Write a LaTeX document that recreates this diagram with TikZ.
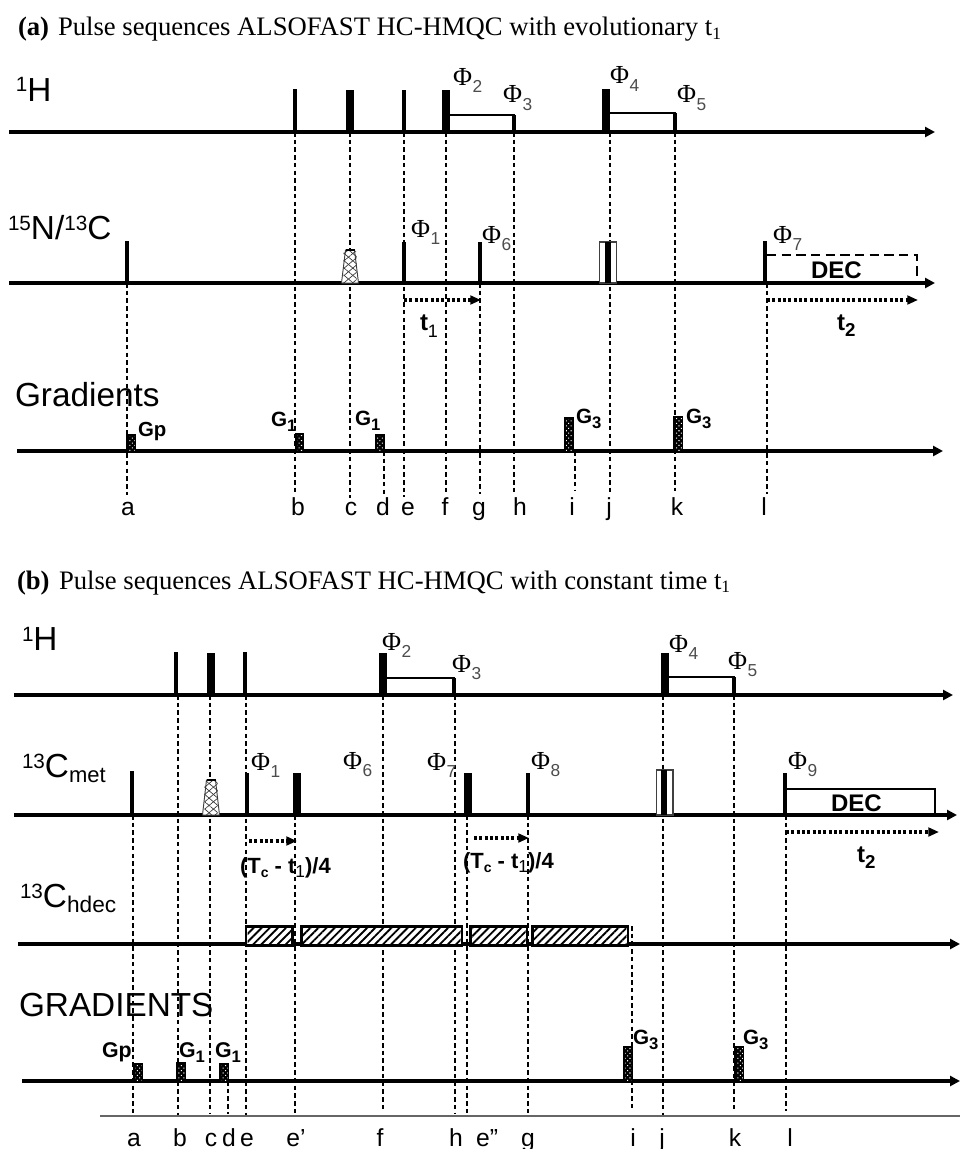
\documentclass[tikz,border=0pt]{standalone}
\usepackage{fontspec}
\setmainfont{Liberation Serif}
\setsansfont{Liberation Sans}
\usetikzlibrary{arrows.meta,patterns,patterns.meta}
\newcommand\fsz[1]{\fontsize{#1}{#1}\selectfont}
\definecolor{subgray}{gray}{0.3}
\tikzset{
  axisline/.style={line width=2.6pt,line cap=butt,-{Triangle[length=7.5pt,width=7.5pt]}},
  guide/.style={line width=0.9pt,dash pattern=on 3.4pt off 2.4pt,black},
  timearrow/.style={line width=2.3pt,dash pattern=on 2.3pt off 1.7pt,-{Triangle[length=8pt,width=6.5pt]}},
  delaybox/.style={line width=1.8pt,draw=black,fill=white},
  hatchbox/.style={line width=2pt,draw=black,fill=white},
  txt/.style={inner sep=0pt,outer sep=0pt,anchor=base west,font=\sffamily},
  ttl/.style={inner sep=0pt,outer sep=0pt,anchor=base west,font=\rmfamily\fsz{20}},
  tick/.style={inner sep=0pt,outer sep=0pt,anchor=base,font=\sffamily\fsz{18.5}},
  chan/.style={txt,font=\sffamily\fsz{25}},
  grad/.style={txt,font=\sffamily\bfseries\fsz{15.3}},
}
\newcommand\Sup[1]{\raisebox{.27em}{\fsz{15.5}#1}}
\newcommand\Phil[4]{\node[txt] (#1) at (#2,#3) {\rmfamily\fsz{19.5}\char"03A6\hspace{0.5pt}\raisebox{-5.5pt}{\sffamily\fsz{13}\color{subgray}#4}};}
\newcommand\Gl[5]{\node[grad] (#1) at (#2,#3) {\fsz{#5}G\raisebox{-4pt}{\fsz{12.5}#4}};}
\newcommand\Pulse[4]{\fill[black] ({#1-#2/2},#3) rectangle ({#1+#2/2},#4);}
\newcommand\Gblock[4]{\fill[black] (#1,#3) rectangle (#2,#4);
  \fill[pattern={Dots[radius=0.55pt,distance=2.6pt,angle=45]},pattern color=white] ({#1+2.2},{#3+2.5}) rectangle ({#2-1.2},{#4-1});}
\newcommand\Guide[4]{\coordinate (#1t) at (#2,#3); \coordinate (#1b) at (#2,#4); \draw[guide] (#1t) -- (#1b);}
\newcommand\Trap[3]{\filldraw[line width=0.7pt,draw=black!75,fill=white] ({#1-8.5},#3) -- ({#1-4.5},#2) -- ({#1+4.5},#2) -- ({#1+8.5},#3) -- cycle;
  \fill[pattern={Lines[angle=40,distance=4.2pt,line width=0.5pt]},pattern color=black!80] ({#1-6.5},{#2+1}) rectangle ({#1+6.5},#3);
  \fill[pattern={Lines[angle=-40,distance=4.2pt,line width=0.5pt]},pattern color=black!80] ({#1-6.5},{#2+1}) rectangle ({#1+6.5},#3);
  \draw[line width=1.3pt] ({#1-4.5},#2) -- ({#1+4.5},#2);}
\newcommand\Hatch[4]{\draw[hatchbox] (#1,#3) rectangle (#2,#4);
  \fill[pattern={Lines[angle=45,distance=4.3pt,line width=1.4pt]},pattern color=black] ({#1+1.5},{#3+1.5}) rectangle ({#2-1.5},{#4-1.5});}
\begin{document}
\begin{tikzpicture}[x=0.75pt,y=-0.75pt]
\useasboundingbox (0,0) rectangle (960,1149);
\fill[white] (0,0) rectangle (960,1149);

% ---------- panel a ----------
\node[ttl] (atitleA) at (18,36) {\textbf{(a)}};
\node[ttl] (atitleB) at (58,36) {Pulse sequences ALSOFAST HC-HMQC with evolutionary t\raisebox{-2.5pt}{\fsz{13}1}};

\Guide{ga}{127}{283}{495}
\Guide{gb}{295}{132}{495}
\Guide{gc}{350}{132}{498}
\Guide{gd}{384}{451}{494}
\Guide{ge}{404}{132}{497}
\Guide{gf}{446}{132}{492}
\Guide{gg}{480}{283}{494}
\Guide{gh}{514}{132}{492}
\Guide{gi}{575}{451}{490}
\Guide{gj}{610}{132}{494}
\Guide{gk}{675}{132}{491}
\Guide{gl}{767}{283}{494}

% 1H
\node[chan] (aH) at (16,101) {\Sup{1}H};
\coordinate (a1s) at (9,132); \coordinate (a1e) at (935,132);
\draw[delaybox] (448,115) rectangle (514,132);
\draw[delaybox] (608,113) rectangle (675,132);
\draw[axisline] (a1s) -- (a1e);
\Pulse{295}{3.5}{89}{132}
\Pulse{350}{8}{90}{132}
\Pulse{404}{3.5}{90}{132}
\Pulse{446}{8}{90}{132}
\Pulse{514}{3.5}{115}{132}
\Pulse{606}{8}{89}{132}
\Pulse{675}{3.5}{113}{132}
\Phil{aP2}{453}{85}{2}
\Phil{aP3}{503}{103}{3}
\Phil{aP4}{610}{84}{4}
\Phil{aP5}{677}{103}{5}

% 15N/13C
\node[chan] (aN) at (8,239) {\Sup{15}N/\Sup{13}C};
\coordinate (a2s) at (9,283); \coordinate (a2e) at (935,283);
\draw[line width=1.5pt,dash pattern=on 7pt off 4pt] (767,255) -- (917,255) -- (917,283);
\draw[axisline] (a2s) -- (a2e);
\Pulse{127}{3.5}{241}{283}
\Trap{350}{250}{283}
\Pulse{404}{4}{242}{283}
\Pulse{480}{3.5}{242}{283}
\draw[line width=0.8pt,draw=black!75,fill=white] (599.5,242) rectangle (616.5,283);
\Pulse{608}{6.5}{242}{283}
\Pulse{765}{4}{241}{283}
\node[txt,font=\sffamily\bfseries\fsz{18}] (aDEC) at (811,278) {DEC};
\Phil{aP1}{411}{237}{1}
\Phil{aP6}{482}{243}{6}
\Phil{aP7}{773}{243}{7}
\coordinate (at1s) at (404,300); \coordinate (at1e) at (481,300);
\draw[timearrow] (at1s) -- (at1e);
\coordinate (at2s) at (767,300); \coordinate (at2e) at (918,300);
\draw[timearrow] (at2s) -- (at2e);
\node[txt,font=\sffamily\bfseries\fsz{18}] (at1) at (420,330) {t\raisebox{-5.5pt}{\mdseries\fsz{13.5}1}};
\node[txt,font=\sffamily\bfseries\fsz{18}] (at2) at (837,330) {t\raisebox{-5pt}{\fsz{14}2}};

% Gradients
\node[chan] (aG) at (15,406) {Gradients};
\coordinate (a3s) at (17,451); \coordinate (a3e) at (943,451);
\draw[axisline] (a3s) -- (a3e);
\Gblock{126}{136}{434}{451}
\Gblock{295}{304}{433}{451}
\Gblock{375}{385}{434}{451}
\Gblock{564}{574}{417}{451}
\Gblock{673}{683}{416}{451}
\node[grad] (aGp) at (138,436) {Gp};
\Gl{aG1a}{271}{426}{1}{15.5}
\Gl{aG1b}{355}{425}{1}{15.5}
\Gl{aG3a}{576}{423}{3}{15.5}
\Gl{aG3b}{686}{423}{3}{15.5}

\node[tick] (ta) at (128,515) {a};
\node[tick] (tb) at (298,515) {b};
\node[tick] (tc) at (351,515) {c};
\node[tick] (td) at (383,515) {d};
\node[tick] (te) at (408,515) {e};
\node[tick] (tf) at (445,515) {f};
\node[tick] (tg) at (479,515) {g};
\node[tick] (th) at (520,515) {h};
\node[tick] (ti) at (572,515) {i};
\node[tick] (tj) at (609,515) {j};
\node[tick] (tk) at (677,515) {k};
\node[tick] (tl) at (764,515) {l};

% ---------- panel b ----------
\node[ttl] (btitleA) at (17,589) {\textbf{(b)}};
\node[ttl] (btitleB) at (59,589) {Pulse sequences ALSOFAST HC-HMQC with constant time t\raisebox{-2.5pt}{\fsz{13}1}};

\Guide{ha}{133}{815}{1116}
\Guide{hb}{178}{695}{1116}
\Guide{hc}{210}{695}{1113}
\Guide{hd}{228}{1081}{1114}
\Guide{he}{246}{695}{1118}
\Guide{hep}{295}{815}{1113}
\Guide{hf}{383}{695}{1111}
\Guide{hh}{455}{695}{1113}
\Guide{hepp}{467}{815}{1116}
\Guide{hg}{528}{815}{1113}
\Guide{hi}{632}{926}{1111}
\Guide{hj}{663}{695}{1115}
\Guide{hk}{734}{695}{1111}
\Guide{hl}{786}{815}{1111}

\coordinate (brs) at (100,1116); \coordinate (bre) at (960,1116);
\draw[line width=0.8pt,black!60] (brs) -- (bre);

% 1H
\node[chan] (bH) at (22,650) {\Sup{1}H};
\coordinate (b1s) at (14,695); \coordinate (b1e) at (953,695);
\draw[delaybox] (385,678) rectangle (454,695);
\draw[delaybox] (667,677) rectangle (734,695);
\draw[axisline] (b1s) -- (b1e);
\Pulse{176}{3.5}{652}{695}
\Pulse{211}{8}{653}{695}
\Pulse{245}{3.5}{652}{695}
\Pulse{383}{8}{653}{695}
\Pulse{454}{3.5}{678}{695}
\Pulse{665}{8}{653}{695}
\Pulse{734}{3.5}{677}{695}
\Phil{bP2}{382}{650}{2}
\Phil{bP3}{452}{672}{3}
\Phil{bP4}{669}{652}{4}
\Phil{bP5}{728}{669}{5}

% 13C met
\node[txt,font=\sffamily\fsz{25}] (bC) at (22,777) {\Sup{13}C\raisebox{-4pt}{\fsz{16.5}met}};
\coordinate (b2s) at (14,815); \coordinate (b2e) at (957,815);
\draw[line width=1.4pt] (787,789) -- (935,789) -- (935,815);
\draw[axisline] (b2s) -- (b2e);
\Pulse{131.5}{4}{771}{815}
\Trap{211}{780}{815}
\Pulse{246.5}{4}{773}{815}
\Pulse{297}{8}{773}{815}
\Pulse{468}{8}{773}{815}
\Pulse{528}{4}{773}{815}
\draw[line width=0.8pt,draw=black!75,fill=white] (656.5,770) rectangle (673,815);
\Pulse{664}{6.5}{770}{815}
\Pulse{785}{4}{773}{815}
\node[txt,font=\sffamily\bfseries\fsz{18}] (bDEC) at (831,811) {DEC};
\Phil{bP1}{251}{770}{1}
\Phil{bP6}{343}{769}{6}
\Phil{bP7}{427}{770}{7}
\Phil{bP8}{531}{769}{8}
\Phil{bP9}{788}{769}{9}
\coordinate (bd1s) at (249,841); \coordinate (bd1e) at (297,841);
\draw[timearrow] (bd1s) -- (bd1e);
\coordinate (bd2s) at (474,838); \coordinate (bd2e) at (529,838);
\draw[timearrow] (bd2s) -- (bd2e);
\coordinate (bt2s) at (786,832); \coordinate (bt2e) at (939,832);
\draw[timearrow] (bt2s) -- (bt2e);
\node[txt,font=\sffamily\bfseries\fsz{16.5}] (bf1) at (240,873) {(T\raisebox{-3pt}{\fsz{10.5}c} - t\raisebox{-3pt}{\mdseries\fsz{13}1})/4};
\node[txt,font=\sffamily\bfseries\fsz{16.5}] (bf2) at (463,868) {(T\raisebox{-3pt}{\fsz{10.5}c} - t\raisebox{-3pt}{\mdseries\fsz{13}1})/4};
\node[txt,font=\sffamily\bfseries\fsz{18}] (bt2) at (857,862) {t\raisebox{-5pt}{\fsz{14}2}};

% 13C hdec
\node[txt,font=\sffamily\fsz{25}] (bD) at (20,907) {\Sup{13}C\raisebox{-4pt}{\fsz{17}hdec}};
\coordinate (b3s) at (18,944); \coordinate (b3e) at (960,944);
\draw[axisline] (b3s) -- (b3e);
\Hatch{246}{292.5}{926.5}{945.5}
\Hatch{301.5}{462}{926.5}{945.5}
\Hatch{470.5}{527}{926.5}{945.5}
\Hatch{532.5}{628}{926.5}{945.5}

% Gradients
\node[chan] (bG) at (19,1016) {GRADIENTS};
\coordinate (b4s) at (22,1081); \coordinate (b4e) at (960,1081);
\draw[axisline] (b4s) -- (b4e);
\Gblock{133}{143}{1063}{1081}
\Gblock{176}{186}{1062}{1081}
\Gblock{219}{229}{1063}{1081}
\Gblock{623}{633}{1046}{1081}
\Gblock{734}{744}{1046}{1081}
\node[grad,font=\sffamily\bfseries\fsz{16}] (bGp) at (102,1057) {Gp};
\Gl{bG1a}{179}{1057}{1}{16}
\Gl{bG1b}{215}{1057}{1}{16}
\Gl{bG3a}{633}{1044}{3}{15.5}
\Gl{bG3b}{743}{1044}{3}{15.5}

\node[tick] (ua) at (134,1146) {a};
\node[tick] (ub) at (180,1146) {b};
\node[tick] (uc) at (211,1146) {c};
\node[tick] (ud) at (229,1146) {d};
\node[tick] (ue) at (247,1146) {e};
\node[tick] (uep) at (296,1146) {e'};
\node[tick] (uf) at (380,1146) {f};
\node[tick] (uh) at (456,1146) {h};
\node[tick] (uepp) at (487,1146) {e''};
\node[tick] (ug) at (528,1146) {g};
\node[tick] (ui) at (633,1146) {i};
\node[tick] (uj) at (662,1146) {j};
\node[tick] (uk) at (735,1146) {k};
\node[tick] (ul) at (790,1146) {l};
\end{tikzpicture}
\end{document}
